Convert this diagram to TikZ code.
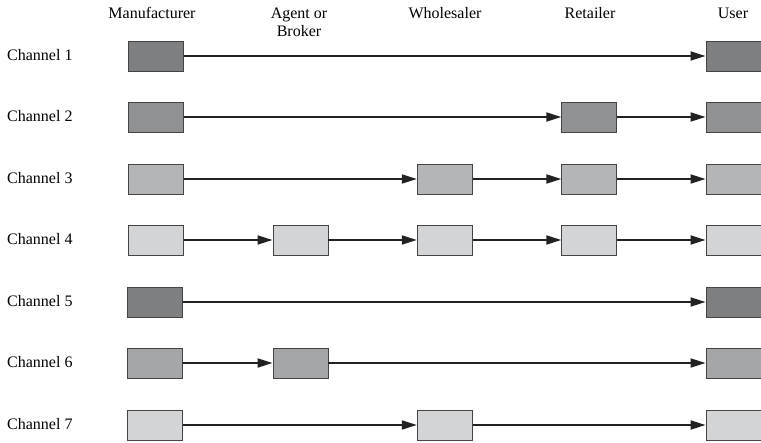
\documentclass[tikz,border=0pt]{standalone}
\usepackage{fontspec}
\setmainfont{Liberation Serif}
\usetikzlibrary{arrows.meta}
\definecolor{cA}{HTML}{7E7F81}
\definecolor{cB}{HTML}{909193}
\definecolor{cC}{HTML}{B4B5B7}
\definecolor{cD}{HTML}{D3D4D6}
\definecolor{cF}{HTML}{A5A6A8}
\definecolor{edge}{HTML}{444444}
\definecolor{ln}{HTML}{222222}
\tikzset{
  box/.style={draw=edge, line width=0.9pt, minimum width=55pt, minimum height=30pt, inner sep=0pt},
  conn/.style={draw=ln, line width=1.8pt, -{Triangle[length=15pt,width=9pt]}, shorten >=0pt},
  lbl/.style={font=\fontsize{16}{18.5}\selectfont, inner sep=0pt},
  hdr/.style={font=\fontsize{16}{18.2}\selectfont, inner sep=0pt, align=center, anchor=base},
}
\begin{document}
\begin{tikzpicture}[x=1pt,y=-1pt]
\useasboundingbox (0,0) rectangle (761,443);
% headers
\node[hdr] (hM) at (152,18.5) {Manufacturer};
\node[hdr] (hA) at (299,36.7) {Agent or\\Broker};
\node[hdr] (hW) at (445,18.5) {Wholesaler};
\node[hdr] (hR) at (590,18.5) {Retailer};
\node[hdr] (hU) at (733,18.5) {User};
% channel labels
\node[lbl, anchor=base west] (l1) at (7,60.5) {Channel 1};
\node[lbl, anchor=base west] (l2) at (7,121.5) {Channel 2};
\node[lbl, anchor=base west] (l3) at (7,183.5) {Channel 3};
\node[lbl, anchor=base west] (l4) at (7,244.5) {Channel 4};
\node[lbl, anchor=base west] (l5) at (7,306.5) {Channel 5};
\node[lbl, anchor=base west] (l6) at (7,367.5) {Channel 6};
\node[lbl, anchor=base west] (l7) at (7,429.5) {Channel 7};
% Channel 1
\node[box, fill=cA] (m1) at (155.8,56) {};
\node[box, fill=cA] (u1) at (733.5,56) {};
\draw[conn] (m1) -- (u1);
% Channel 2
\node[box, fill=cB] (m2) at (155.8,117) {};
\node[box, fill=cB] (r2) at (589.3,117) {};
\node[box, fill=cB] (u2) at (733.5,117) {};
\draw[conn] (m2) -- (r2);
\draw[conn] (r2) -- (u2);
% Channel 3
\node[box, fill=cC] (m3) at (155.8,179) {};
\node[box, fill=cC] (w3) at (444.8,179) {};
\node[box, fill=cC] (r3) at (589.3,179) {};
\node[box, fill=cC] (u3) at (733.5,179) {};
\draw[conn] (m3) -- (w3);
\draw[conn] (w3) -- (r3);
\draw[conn] (r3) -- (u3);
% Channel 4
\node[box, fill=cD] (m4) at (155.8,240) {};
\node[box, fill=cD] (a4) at (300.5,240) {};
\node[box, fill=cD] (w4) at (444.8,240) {};
\node[box, fill=cD] (r4) at (589.3,240) {};
\node[box, fill=cD] (u4) at (733.5,240) {};
\draw[conn] (m4) -- (a4);
\draw[conn] (a4) -- (w4);
\draw[conn] (w4) -- (r4);
\draw[conn] (r4) -- (u4);
% Channel 5
\node[box, fill=cA] (m5) at (155,302) {};
\node[box, fill=cA] (u5) at (733.5,302) {};
\draw[conn] (m5) -- (u5);
% Channel 6
\node[box, fill=cF] (m6) at (155,363) {};
\node[box, fill=cF] (a6) at (300.5,363) {};
\node[box, fill=cF] (u6) at (733.5,363) {};
\draw[conn] (m6) -- (a6);
\draw[conn] (a6) -- (u6);
% Channel 7
\node[box, fill=cD] (m7) at (155,425) {};
\node[box, fill=cD] (w7) at (444.8,425) {};
\node[box, fill=cD] (u7) at (733.5,425) {};
\draw[conn] (m7) -- (w7);
\draw[conn] (w7) -- (u7);
\end{tikzpicture}
\end{document}
